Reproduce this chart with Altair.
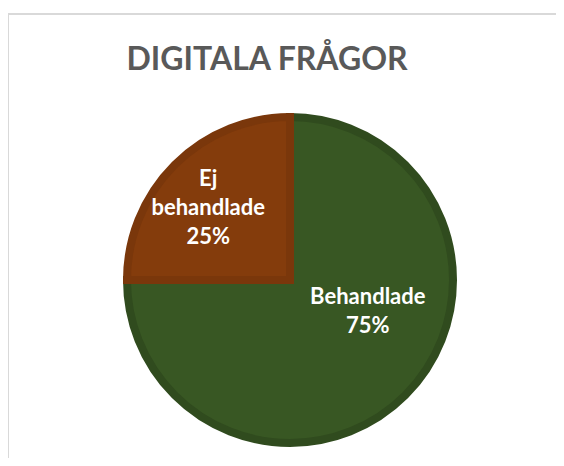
import altair as alt
import pandas as pd

title_text = "DIGITALA FRÅGOR"
categories = ["Behandlade", "Ej behandlade"]
values = [75, 25]
fills = ["#385723", "#843C0C"]
edges = ["#304B1E", "#7A370B"]

df = pd.DataFrame({"cat": categories, "value": values, "order": [0, 1]})
df["label"] = [c.replace(" ", "\n") + "\n" + f"{v}%" for c, v in zip(categories, values)]

W, H = 548, 444
CX, CY = 282, 266
R = 163
FONT = "Lato"

base = alt.Chart(df)

pie = base.mark_arc(outerRadius=R, strokeWidth=8, strokeJoin="miter").encode(
    theta=alt.Theta("value:Q", stack=True),
    order=alt.Order("order:Q"),
    color=alt.Color("cat:N", scale=alt.Scale(domain=categories, range=fills), legend=None),
    stroke=alt.Stroke("cat:N", scale=alt.Scale(domain=categories, range=edges), legend=None),
    x=alt.value(CX),
    y=alt.value(CY),
)

def label_layer(cat, radius, dx, dy):
    return base.mark_text(
        font=FONT, fontWeight="bold", fontSize=22, color="white",
        lineBreak="\n", lineHeight=29, align="center", baseline="middle", dx=dx, dy=dy,
    ).encode(
        theta=alt.Theta("value:Q", stack=True),
        order=alt.Order("order:Q"),
        radius=alt.value(radius),
        text="label:N",
        opacity=alt.condition(alt.datum.cat == cat, alt.value(1), alt.value(0)),
        x=alt.value(CX),
        y=alt.value(CY),
    )

lab_big = label_layer(categories[0], 110, 0, -61)
lab_small = label_layer(categories[1], 110, -4, -23)

tdf = pd.DataFrame({"t": [title_text]})
title = alt.Chart(tdf).mark_text(
    font=FONT, fontWeight="bold", fontSize=32, color="#595959",
    align="center", baseline="alphabetic",
).encode(text="t:N", x=alt.value(259), y=alt.value(56))

frame_left = alt.Chart(tdf).mark_rule(color="#d9d9d9", strokeWidth=2).encode(
    x=alt.value(0), y=alt.value(0), y2=alt.value(H + 10))
frame_top = alt.Chart(tdf).mark_rule(color="#d9d9d9", strokeWidth=2).encode(
    x=alt.value(0), x2=alt.value(W + 10), y=alt.value(0))

chart = alt.layer(frame_left, frame_top, pie, lab_small, lab_big, title).properties(
    width=W, height=H,
    autosize=alt.AutoSizeParams(type="none"),
    padding={"left": 0, "top": 6, "right": 0, "bottom": 0},
    background="white",
).configure_view(strokeWidth=0)

chart.save("out.html", embed_options={"renderer": "svg", "actions": False})
